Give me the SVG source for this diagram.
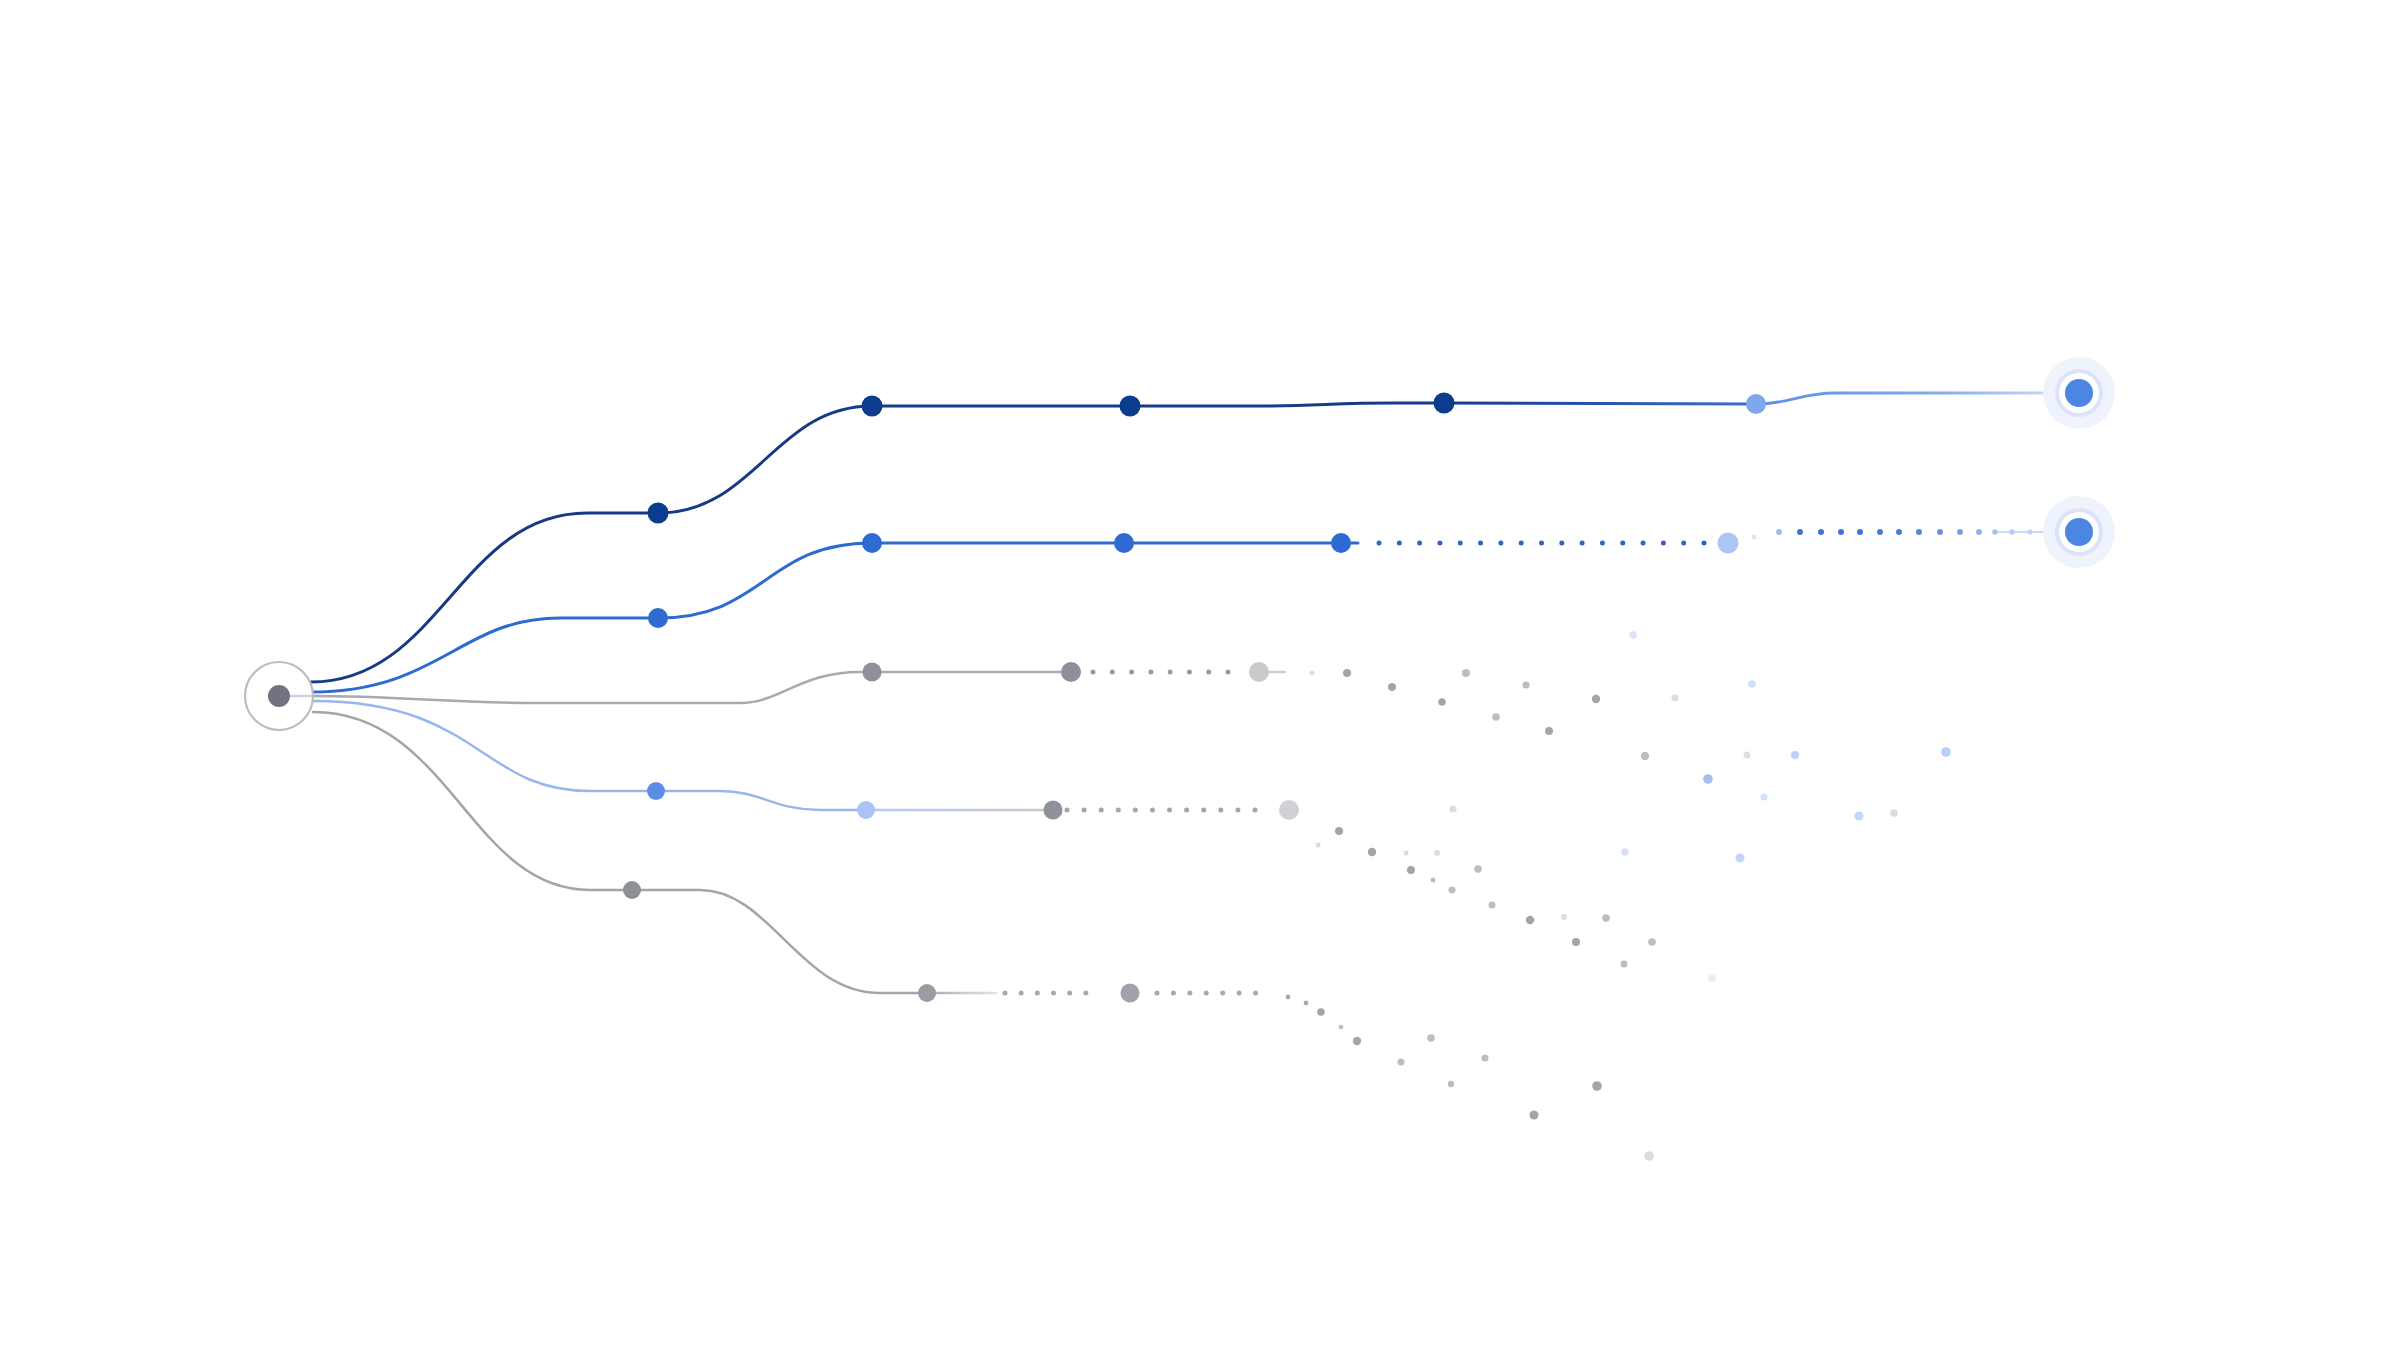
<svg xmlns="http://www.w3.org/2000/svg" width="2400" height="1350" viewBox="0 0 2400 1350">
<defs>
<style>
.ln{fill:none;stroke-linecap:round;stroke-linejoin:round}
.dots{fill:none;stroke-linecap:round;stroke-width:5}
.pg{fill:#a3a5ab}
.pm{fill:#bbbdc1}
.pf{fill:#dcdde0}
</style>
<linearGradient id="g1a" gradientUnits="userSpaceOnUse" x1="1444" y1="0" x2="1756" y2="0">
<stop offset="0" stop-color="#163a88"/><stop offset="1" stop-color="#3d6ec9"/>
</linearGradient>
<linearGradient id="g1b" gradientUnits="userSpaceOnUse" x1="1756" y1="0" x2="2062" y2="0">
<stop offset="0" stop-color="#5b8ee6"/><stop offset="0.6" stop-color="#86aaeb"/><stop offset="1" stop-color="#d0ddf6"/>
</linearGradient>
<linearGradient id="g4b" gradientUnits="userSpaceOnUse" x1="866" y1="0" x2="1054" y2="0">
<stop offset="0" stop-color="#b3c9f3"/><stop offset="1" stop-color="#c6c8cd"/>
</linearGradient>
<linearGradient id="g5b" gradientUnits="userSpaceOnUse" x1="927" y1="0" x2="996" y2="0">
<stop offset="0" stop-color="#a9abb0"/><stop offset="1" stop-color="#e3e4e6"/>
</linearGradient>
<linearGradient id="g2b" gradientUnits="userSpaceOnUse" x1="1990" y1="0" x2="2060" y2="0">
<stop offset="0" stop-color="#d6e2f8"/><stop offset="1" stop-color="#bfd1f5"/>
</linearGradient>
</defs>
<rect x="0" y="0" width="2400" height="1350" fill="#ffffff"/>

<g id="connectors">
<path class="ln" stroke="#163a86" stroke-width="3" d="M311,682 C440,682 460,513 587,513 L658,513 C755,513 775,406 872,406 L1252,406 C1320,406 1330,403 1395,403 L1444,403"/>
<path class="ln" stroke="url(#g1a)" stroke-width="3" d="M1444,403 L1756,404"/>
<path class="ln" stroke="url(#g1b)" stroke-width="2.8" d="M1756,404 C1790,404 1800,393 1835,393 L2062,393"/>
<path class="ln" stroke="#2e6bd0" stroke-width="3" d="M311,692 C440,692 460,618 560,618 L658,618 C765,618 765,543 872,543 L1358,543"/>
<path class="dots" stroke="#2f63c9" d="M1379,543 H1705" stroke-dasharray="0 20.3125"/>
<path class="ln" stroke="url(#g2b)" stroke-width="2" d="M1994,532 L2062,532"/>
<path class="ln" stroke="#a9aab0" stroke-width="2.5" d="M311,696 C400,696 450,703 540,703 L740,703 C780,703 800,672 860,672 L1071,672"/>
<path class="dots" stroke="#999ba2" d="M1093,672 H1228" stroke-dasharray="0 19.2857"/>
<path class="ln" stroke="#cfd0d4" stroke-width="2.5" d="M1259,672 L1285,672"/>
<path class="ln" stroke="#98b5ef" stroke-width="2.5" d="M313,701 C480,701 480,791 590,791 L720,791 C760,791 775,810 820,810 L866,810"/>
<path class="ln" stroke="url(#g4b)" stroke-width="2.5" d="M866,810 L1054,810"/>
<path class="dots" stroke="#a4a6ac" d="M1067,810 H1255" stroke-dasharray="0 17.0909"/>
<path class="ln" stroke="#a4a5ab" stroke-width="2.5" d="M313,712 C450,712 470,890 590,890 L700,890 C770,890 800,993 880,993 L927,993"/>
<path class="ln" stroke="url(#g5b)" stroke-width="2.5" d="M927,993 L996,993"/>
<path class="dots" stroke="#a7a9ae" d="M1005,993 H1102" stroke-dasharray="0 16.1667"/>
<path class="dots" stroke="#a7a9ae" d="M1157,993 H1272" stroke-dasharray="0 16.4286"/>
</g>

<g id="start-node">
<circle cx="279" cy="696" r="34" fill="#ffffff" stroke="#bcbdc2" stroke-width="2.2"/>
<path class="ln" stroke="#c9d2e3" stroke-width="2.5" d="M290,696 L311,696"/>
<circle cx="279" cy="696" r="11" fill="#6f7480"/>
</g>

<g id="path1-nodes">
<circle id="n1a" cx="658" cy="513" r="10.5" fill="#0b3c8e"/>
<circle id="n1b" cx="872" cy="406" r="10.5" fill="#0b3c8e"/>
<circle id="n1c" cx="1130" cy="406" r="10.5" fill="#0b3c8e"/>
<circle id="n1d" cx="1444" cy="403" r="10.5" fill="#0b3c8e"/>
<circle id="n1e" cx="1756" cy="404" r="10" fill="#7fa7eb"/>
</g>
<g id="end-node-1">
<circle cx="2079" cy="393" r="36" fill="#eef3fc"/>
<circle cx="2079" cy="393" r="24" fill="#d9e4f9"/>
<circle cx="2079" cy="393" r="20" fill="#ffffff"/>
<circle cx="2079" cy="393" r="14" fill="#4a86e2"/>
</g>

<g id="path2-nodes">
<circle id="n2a" cx="658" cy="618" r="10" fill="#2e6ad2"/>
<circle id="n2b" cx="872" cy="543" r="10" fill="#2e6ad2"/>
<circle id="n2c" cx="1124" cy="543" r="10" fill="#2e6ad2"/>
<circle id="n2d" cx="1341" cy="543" r="10" fill="#2e6ad2"/>
<circle id="n2e" cx="1728" cy="543" r="10.5" fill="#adc6f4"/>
<circle cx="1754" cy="537" r="2.5" fill="#dbe5f8"/>
<circle cx="1779" cy="532" r="3" fill="#9fbbef"/>
<circle cx="1800" cy="532" r="3" fill="#3f74d6"/>
<circle cx="1821" cy="532" r="3" fill="#3f74d6"/>
<circle cx="1841" cy="532" r="3" fill="#3f74d6"/>
<circle cx="1860" cy="532" r="3" fill="#3f74d6"/>
<circle cx="1880" cy="532" r="3" fill="#4a7dd9"/>
<circle cx="1899" cy="532" r="3" fill="#4a7dd9"/>
<circle cx="1919" cy="532" r="3" fill="#5586db"/>
<circle cx="1940" cy="532" r="3" fill="#6892df"/>
<circle cx="1960" cy="532" r="3" fill="#7b9fe3"/>
<circle cx="1979" cy="532" r="3" fill="#93b1e9"/>
<circle cx="1995" cy="532" r="2.8" fill="#aac1ee"/>
<circle cx="2012" cy="532" r="2.8" fill="#b8cbf1"/>
<circle cx="2030" cy="532" r="2.6" fill="#c2d3f3"/>
</g>
<g id="end-node-2">
<circle cx="2079" cy="532" r="36" fill="#eef3fc"/>
<circle cx="2079" cy="532" r="24" fill="#d9e4f9"/>
<circle cx="2079" cy="532" r="20" fill="#ffffff"/>
<circle cx="2079" cy="532" r="14" fill="#4a86e2"/>
</g>

<g id="path3-nodes">
<circle id="n3a" cx="872" cy="672" r="9.5" fill="#8d9099"/>
<circle id="n3b" cx="1071" cy="672" r="10" fill="#8d9099"/>
<circle id="n3c" cx="1259" cy="672" r="10" fill="#c9cacd"/>
</g>
<g id="path4-nodes">
<circle id="n4a" cx="656" cy="791" r="9" fill="#5b8ee6"/>
<circle id="n4b" cx="866" cy="810" r="9" fill="#a9c3f4"/>
<circle id="n4c" cx="1053" cy="810" r="9.5" fill="#8f929a"/>
<circle id="n4d" cx="1289" cy="810" r="10" fill="#d0d1d4"/>
</g>
<g id="path5-nodes">
<circle id="n5a" cx="632" cy="890" r="9" fill="#8e9098"/>
<circle id="n5b" cx="927" cy="993" r="9" fill="#9a9ca3"/>
<circle id="n5c" cx="1130" cy="993" r="9.5" fill="#a1a3aa"/>
</g>

<g id="particles">
<circle class="pf" cx="1312" cy="673" r="2.5"/>
<circle class="pg" cx="1347" cy="673" r="4"/>
<circle class="pg" cx="1392" cy="687" r="4"/>
<circle class="pg" cx="1442" cy="702" r="3.8"/>
<circle class="pm" cx="1466" cy="673" r="4"/>
<circle class="pm" cx="1496" cy="717" r="3.8"/>
<circle class="pm" cx="1526" cy="685" r="3.6"/>
<circle class="pg" cx="1549" cy="731" r="4"/>
<circle class="pg" cx="1596" cy="699" r="4.2"/>
<circle class="pm" cx="1645" cy="756" r="4.2"/>
<circle class="pf" cx="1675" cy="698" r="3.5"/>
<circle class="pf" cx="1747" cy="755" r="3.5"/>
<circle class="pf" cx="1894" cy="813" r="3.8"/>
<circle cx="1633" cy="635" r="3.8" fill="#dde3f4"/>
<circle cx="1752" cy="684" r="3.8" fill="#d3e0fb"/>
<circle cx="1795" cy="755" r="4" fill="#bdd0f5"/>
<circle cx="1946" cy="752" r="4.8" fill="#b9cef6"/>
<circle cx="1708" cy="779" r="4.8" fill="#a5bff3"/>
<circle cx="1764" cy="797" r="3.5" fill="#d5e1fb"/>
<circle cx="1859" cy="816" r="4.5" fill="#c4d5f7"/>
<circle cx="1625" cy="852" r="3.8" fill="#d8e2f8"/>
<circle cx="1740" cy="858" r="4.5" fill="#c2d4f8"/>
<circle class="pf" cx="1453" cy="809" r="3.5"/>
<circle class="pg" cx="1339" cy="831" r="4"/>
<circle class="pf" cx="1318" cy="845" r="2.5"/>
<circle class="pg" cx="1372" cy="852" r="4.2"/>
<circle class="pf" cx="1406" cy="853" r="2.5"/>
<circle class="pf" cx="1437" cy="853" r="3"/>
<circle class="pg" cx="1411" cy="870" r="4"/>
<circle class="pm" cx="1433" cy="880" r="2.5"/>
<circle class="pm" cx="1478" cy="869" r="3.8"/>
<circle class="pm" cx="1452" cy="890" r="3.5"/>
<circle class="pm" cx="1492" cy="905" r="3.5"/>
<circle class="pg" cx="1530" cy="920" r="4.2"/>
<circle class="pf" cx="1564" cy="917" r="3"/>
<circle class="pm" cx="1606" cy="918" r="3.8"/>
<circle class="pg" cx="1576" cy="942" r="4"/>
<circle class="pm" cx="1652" cy="942" r="3.8"/>
<circle class="pm" cx="1624" cy="964" r="3.5"/>
<circle cx="1712" cy="978" r="4" fill="#eeeef0"/>
<circle cx="1288" cy="997" r="2.4" fill="#a7a9ae"/>
<circle cx="1306" cy="1003" r="2.4" fill="#a7a9ae"/>
<circle class="pg" cx="1321" cy="1012" r="3.8"/>
<circle class="pm" cx="1341" cy="1027" r="2.3"/>
<circle class="pg" cx="1357" cy="1041" r="4.2"/>
<circle class="pm" cx="1431" cy="1038" r="3.8"/>
<circle class="pm" cx="1401" cy="1062" r="3.5"/>
<circle class="pm" cx="1485" cy="1058" r="3.5"/>
<circle class="pm" cx="1451" cy="1084" r="3.2"/>
<circle class="pg" cx="1597" cy="1086" r="4.8"/>
<circle class="pg" cx="1534" cy="1115" r="4.5"/>
<circle cx="1649" cy="1156" r="4.8" fill="#dcdde0"/>
</g>
</svg>
